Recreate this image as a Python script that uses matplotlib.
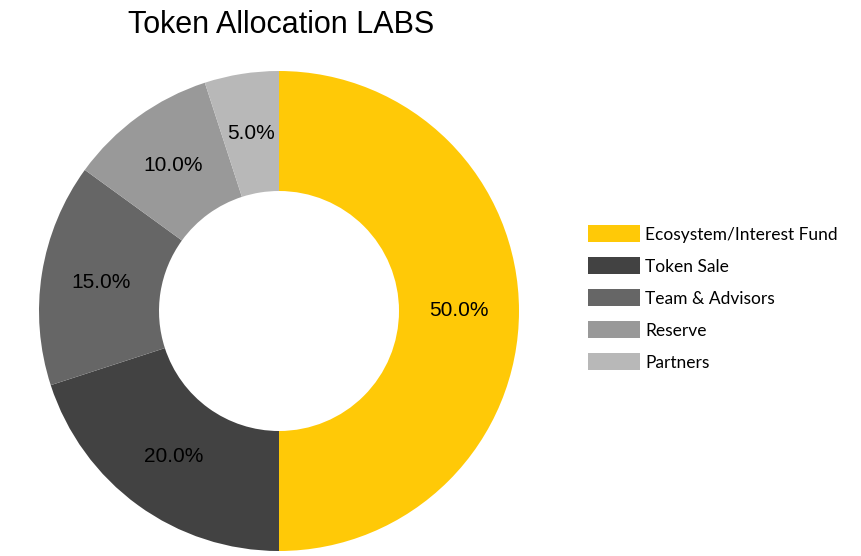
import matplotlib.pyplot as plt
from matplotlib.patches import Patch

labels = ['Ecosystem/Interest Fund', 'Token Sale', 'Team & Advisors', 'Reserve', 'Partners']
values = [50, 20, 15, 10, 5]
colors = ['#FFC907', '#424242', '#666666', '#999999', '#B8B8B8']

fig = plt.figure(figsize=(8.62, 5.56), dpi=100)
ax = fig.add_axes([(279 - 240) / 862, (556 - 311 - 240) / 556, 480 / 862, 480 / 556])

ax.pie(values, colors=colors, startangle=90, counterclock=False,
       autopct='%1.1f%%', pctdistance=0.75,
       wedgeprops=dict(width=0.5, edgecolor='none'),
       textprops=dict(fontsize=15, family='Liberation Sans', color='black'))
ax.set_xlim(-1, 1)
ax.set_ylim(-1, 1)
ax.set_aspect('equal')

fig.text(281 / 862, 1 - 25 / 556, 'Token Allocation LABS', ha='center', va='center',
         fontsize=22, family='Liberation Sans')

handles = [Patch(facecolor=c, edgecolor='none') for c in colors]
fig.legend(handles, labels, loc='center left', bbox_to_anchor=(572 / 862, 1 - 298 / 556),
           frameon=False, prop=dict(family='Lato', size=12.5),
           handlelength=3.0, handleheight=1.1, handletextpad=0.3, labelspacing=0.85)

fig.savefig('out.png', dpi=100)
